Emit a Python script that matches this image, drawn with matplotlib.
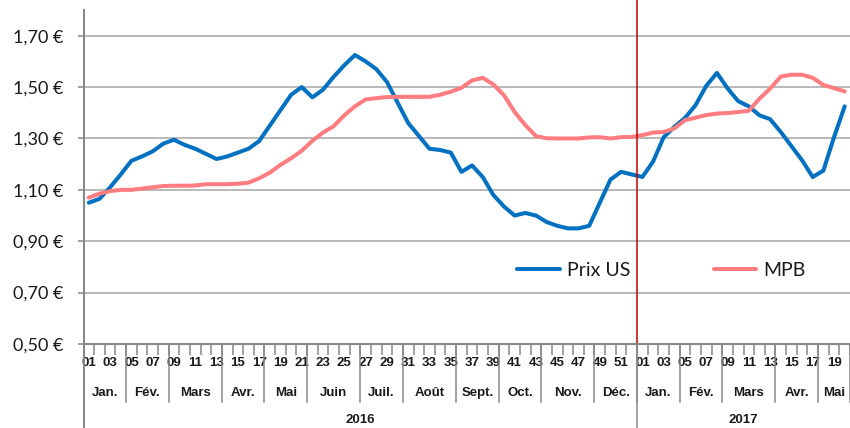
import matplotlib.pyplot as plt
from matplotlib.ticker import FuncFormatter
import numpy as np

plt.rcParams["font.family"] = ["Lato", "DejaVu Sans"]

# weekly prices, 2016 weeks 01-52 then 2017 weeks 01-20
prix_us = [1.05, 1.065, 1.11, 1.16, 1.213, 1.23, 1.25, 1.28, 1.295, 1.275,
           1.26, 1.24, 1.22, 1.23, 1.245, 1.26, 1.29, 1.35, 1.41, 1.47,
           1.50, 1.46, 1.49, 1.54, 1.585, 1.625, 1.60, 1.57, 1.52, 1.44,
           1.36, 1.31, 1.26, 1.255, 1.245, 1.17, 1.195, 1.15, 1.08, 1.035,
           1.00, 1.01, 1.00, 0.975, 0.96, 0.95, 0.95, 0.96, 1.05, 1.14,
           1.17, 1.16,
           1.15, 1.21, 1.305, 1.345, 1.38, 1.43, 1.505, 1.555, 1.495, 1.445,
           1.425, 1.39, 1.375, 1.325, 1.27, 1.215, 1.15, 1.175, 1.305, 1.425]
mpb = [1.07, 1.085, 1.095, 1.10, 1.10, 1.105, 1.11, 1.115, 1.116, 1.116,
       1.117, 1.122, 1.122, 1.122, 1.124, 1.128, 1.145, 1.167, 1.197, 1.223,
       1.252, 1.291, 1.323, 1.348, 1.39, 1.425, 1.452, 1.457, 1.461, 1.462,
       1.462, 1.462, 1.462, 1.47, 1.482, 1.497, 1.526, 1.536, 1.51, 1.468,
       1.403, 1.352, 1.309, 1.301, 1.30, 1.30, 1.30, 1.304, 1.305, 1.30,
       1.305, 1.306,
       1.313, 1.323, 1.325, 1.339, 1.371, 1.381, 1.391, 1.397, 1.399, 1.403,
       1.408, 1.455, 1.494, 1.541, 1.548, 1.548, 1.536, 1.508, 1.496, 1.483]

week_labels = ([f"{w:02d}" if w % 2 else "" for w in range(1, 53)]
               + [f"{w:02d}" if w % 2 else "" for w in range(1, 21)])
months = ["Jan.", "Fév.", "Mars", "Avr.", "Mai", "Juin", "Juil.", "Août",
          "Sept.", "Oct.", "Nov.", "Déc.",
          "Jan.", "Fév.", "Mars", "Avr.", "Mai"]
month_weeks = [4, 4, 5, 4, 4, 5, 4, 5, 4, 4, 5, 4,
               4, 4, 5, 4, 3]
years = ["2016", "2017"]
year_weeks = [52, 20]

grey = "#888888"
ink = "#1a1a1a"
bold_font = dict(family=["Liberation Sans", "DejaVu Sans"], fontweight="bold",
                 fontsize=9.5, color=ink)
x = np.arange(len(prix_us))

fig = plt.figure(figsize=(8.5, 4.28), dpi=100)
ax = fig.add_axes([83.5 / 850, 84 / 428, 1 - 83.5 / 850, 334 / 428])

ax.plot(x, prix_us, color="#0070C0", lw=2.9, label="Prix US", solid_capstyle="round")
ax.plot(x, mpb, color="#FF7C80", lw=2.9, label="MPB", solid_capstyle="round")

ax.set_xlim(-0.5, 71.05)
ax.set_ylim(0.5, 1.8)
ax.set_yticks(np.arange(0.5, 1.71, 0.2))
ax.yaxis.set_major_formatter(FuncFormatter(lambda v, p: f"{v:.2f} €".replace(".", ",")))
ax.tick_params(axis="y", length=4.3, width=1.1, color=grey, pad=10, labelsize=13,
               labelcolor=ink)
ax.yaxis.grid(True, color="#A6A6A6", lw=1.1)
ax.set_axisbelow(True)

ax.set_xticks(np.arange(-0.5, 72, 1), minor=True)
ax.tick_params(axis="x", which="major", length=0, pad=9.4)
ax.tick_params(axis="x", which="minor", length=8, width=1.1, color=grey)
ax.set_xticks(x, week_labels, **bold_font)

for s in ["top", "right"]:
    ax.spines[s].set_visible(False)
for s in ["left", "bottom"]:
    ax.spines[s].set_color(grey)
    ax.spines[s].set_linewidth(1.5)

tr = ax.get_xaxis_transform()
px = 1 / 334

# month row
start = 0
for name, n in zip(months, month_weeks):
    ax.text(start + (n - 1) / 2, -49 * px, name, transform=tr, ha="center",
            va="center", **bold_font)
    ax.plot([start + n - 0.5] * 2, [0, -58 * px], transform=tr, color=grey,
            lw=1.1, clip_on=False)
    start += n

# year row
start = 0
for name, n in zip(years, year_weeks):
    ax.text(start + (n - 1) / 2, -76 * px, name, transform=tr, ha="center",
            va="center", **bold_font)
    ax.plot([start - 0.5] * 2, [0, -84 * px], transform=tr, color=grey,
            lw=1.5 if start == 0 else 1.1, clip_on=False)
    start += n

# separator between years
ax.plot([51.5, 51.5], [0, 1 + 10 * px], transform=tr, color="#C00000", lw=1.1,
        clip_on=False)

leg = ax.legend(loc="center left", bbox_to_anchor=(517 / 850, 158 / 428),
                bbox_transform=fig.transFigure, ncol=2, frameon=False, fontsize=14,
                handlelength=2.2, handletextpad=0.35, columnspacing=4.3,
                borderpad=0, borderaxespad=0)
for t in leg.get_texts():
    t.set_color(ink)

fig.savefig("out.png")
